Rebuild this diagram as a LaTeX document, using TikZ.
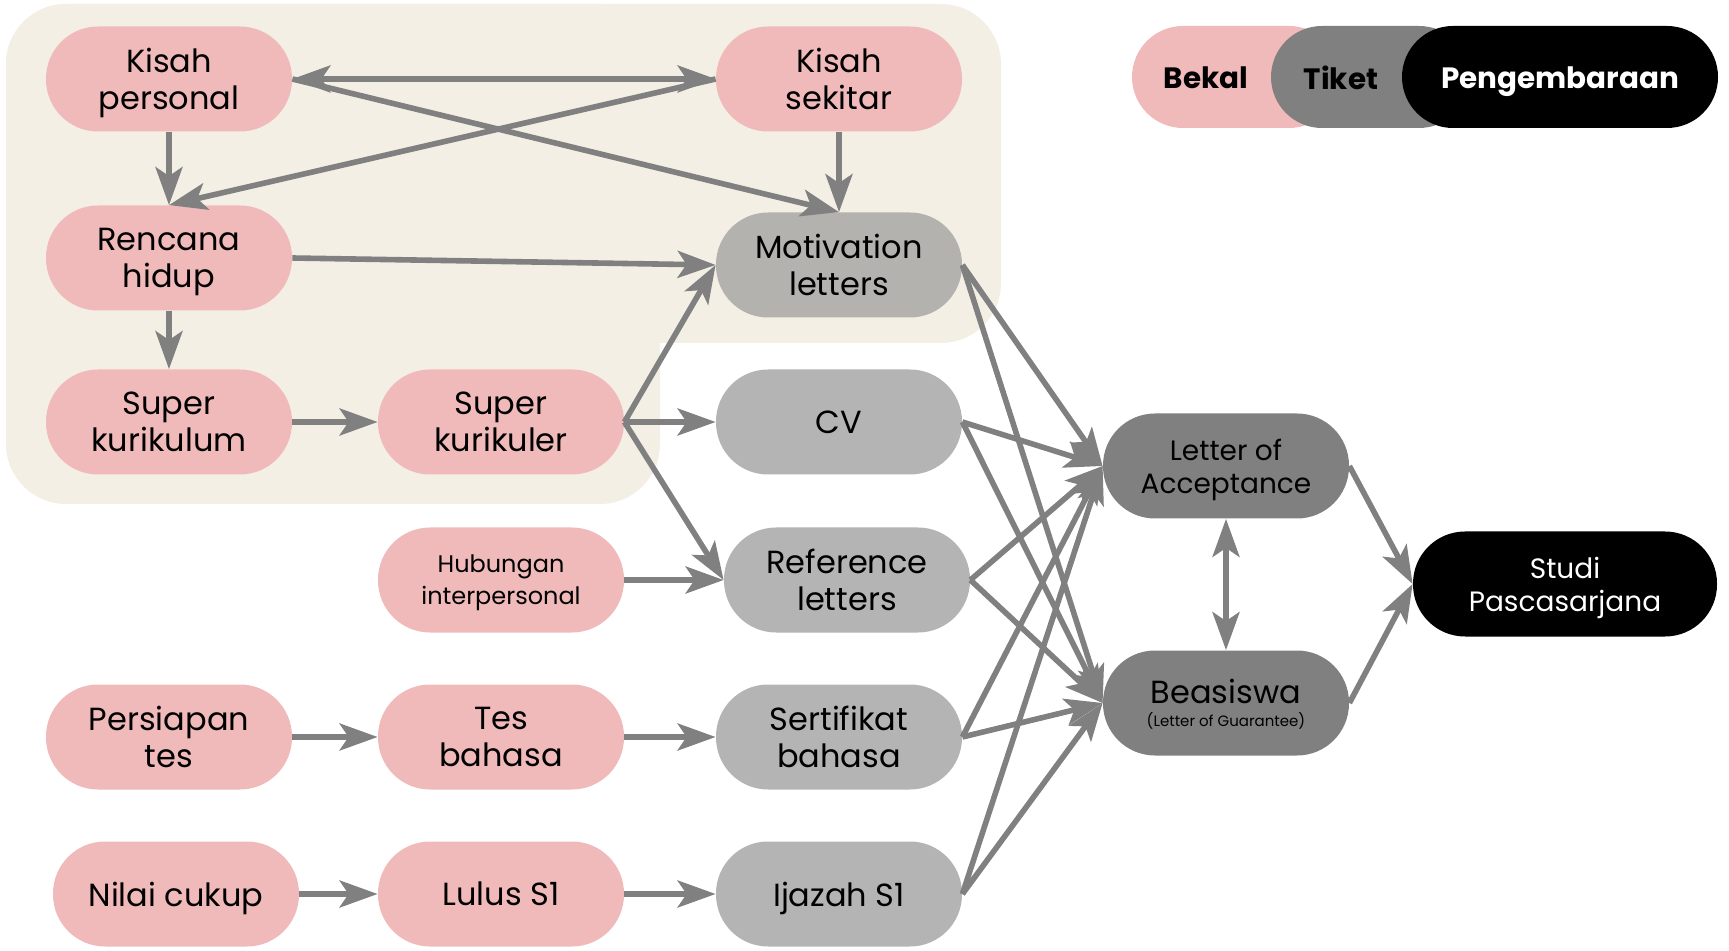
\documentclass[tikz,border=0pt]{standalone}
\usepackage{fontspec}
\setmainfont{Poppins}
\usepackage{xcolor}
\usepackage{tikz}
\usetikzlibrary{shapes,arrows,positioning,calc,arrows.meta}

\definecolor{bekal}{HTML}{F0BABA}
\definecolor{tiket}{HTML}{B4B4B4}
\definecolor{tiketmot}{HTML}{B3B2AE}
\definecolor{hasil}{HTML}{808080}
\definecolor{krem}{HTML}{F3EFE5}
\definecolor{panah}{HTML}{808080}

\begin{document}
\begin{tikzpicture}[x=0.5pt, y=-0.5pt,
    >={Stealth[length=19pt,width=13.5pt,inset=4.5pt]},
    box/.style={rectangle, rounded corners=26pt, minimum width=123pt, minimum height=52.5pt,
        align=center, inner sep=2pt, text depth=0pt, font=\fontsize{16}{18.7}\selectfont},
    bekalbox/.style={box, fill=bekal},
    tiketbox/.style={box, fill=tiket},
    hasilbox/.style={box, fill=hasil, font=\fontsize{14}{16.5}\selectfont},
    legend/.style={inner sep=0pt, text depth=0pt, font=\bfseries\fontsize{14.7}{18}\selectfont},
    go/.style={draw=panah, line width=2.8pt}]
    \useasboundingbox (0,0) rectangle (1729,951);

    % background
    \fill[krem, rounded corners=30pt] (6,4) rectangle (1001,343);
    \fill[krem, rounded corners=30pt] (6,4) rectangle (660,504);

    % legend
    \fill[bekal, rounded corners=25.5pt] (1132,26) rectangle (1340,128);
    \fill[hasil, rounded corners=25.5pt] (1271,26) rectangle (1470,128);
    \fill[black, rounded corners=25.5pt] (1402,26) rectangle (1718,128);
    \node[legend, text=white] (pengembaraan) at (1560,78) {Pengembaraan};
    \node[legend] (bekal) at (1206,78) {Bekal};
    \node[legend] (tiket) at (1341,78) {Tiket};

    % bekal
    \node[bekalbox] (personal) at (169,79) {Kisah\\personal};
    \node[bekalbox] (sekitar) at (839,79) {Kisah\\sekitar};
    \node[bekalbox] (rencana) at (169,258) {Rencana\\hidup};
    \node[bekalbox] (kurikulum) at (169,422) {Super\\kurikulum};
    \node[bekalbox] (kurikuler) at (501,422) {Super\\kurikuler};
    \node[bekalbox, font=\fontsize{12}{16}\selectfont] (hubungan) at (501,580) {Hubungan\\interpersonal};
    \node[bekalbox] (persiapan) at (169,737) {Persiapan\\tes};
    \node[bekalbox] (tes) at (501,737) {Tes\\bahasa};
    \node[bekalbox] (nilai) at (176,894) {Nilai cukup};
    \node[bekalbox] (lulus) at (501,894) {Lulus S1};

    % tiket
    \node[tiketbox, fill=tiketmot] (motivasi) at (839,265) {Motivation\\letters};
    \node[tiketbox] (cv) at (839,422) {CV};
    \node[tiketbox] (referensi) at (847,580) {Reference\\letters};
    \node[tiketbox] (sertifikat) at (839,737) {Sertifikat\\bahasa};
    \node[tiketbox] (ijazah) at (839,894) {Ijazah S1};

    % pengembaraan
    \node[hasilbox] (loa) at (1226,466) {Letter of\\Acceptance};
    \node[hasilbox] (beasiswa) at (1226,703) {{\fontsize{16}{18}\selectfont Beasiswa}\\[-5pt]
        {\fontsize{7.5}{9}\selectfont (Letter of Guarantee)}};
    \node[hasilbox, fill=black, text=white, minimum width=152pt] (studi) at (1565,584) {Studi\\Pascasarjana};

    % arrows
    \draw[go, <->] (personal.east) -- (sekitar.west);
    \draw[go, ->] (personal.east) -- (motivasi.north);
    \draw[go, ->] (sekitar.west) -- (rencana.north);
    \draw[go, ->] (personal.south) -- (rencana.north);
    \draw[go, ->] (sekitar.south) -- (motivasi.north);
    \draw[go, ->] (rencana.east) -- (motivasi.west);
    \draw[go, ->] (rencana.south) -- (kurikulum.north);
    \draw[go, ->] (kurikulum.east) -- (kurikuler.west);
    \foreach \t in {motivasi, cv, referensi}
        \draw[go, ->] (kurikuler.east) -- (\t.west);
    \draw[go, ->] (hubungan.east) -- (referensi.west);
    \draw[go, ->] (persiapan.east) -- (tes.west);
    \draw[go, ->] (tes.east) -- (sertifikat.west);
    \draw[go, ->] (nilai.east) -- (lulus.west);
    \draw[go, ->] (lulus.east) -- (ijazah.west);
    \foreach \s in {motivasi, cv, referensi, sertifikat, ijazah} {
        \draw[go, ->] (\s.east) -- (loa.west);
        \draw[go, ->] (\s.east) -- (beasiswa.west);
    }
    \draw[go, <->] (loa.south) -- (beasiswa.north);
    \draw[go, ->] (loa.east) -- (studi.west);
    \draw[go, ->] (beasiswa.east) -- (studi.west);
\end{tikzpicture}
\end{document}
